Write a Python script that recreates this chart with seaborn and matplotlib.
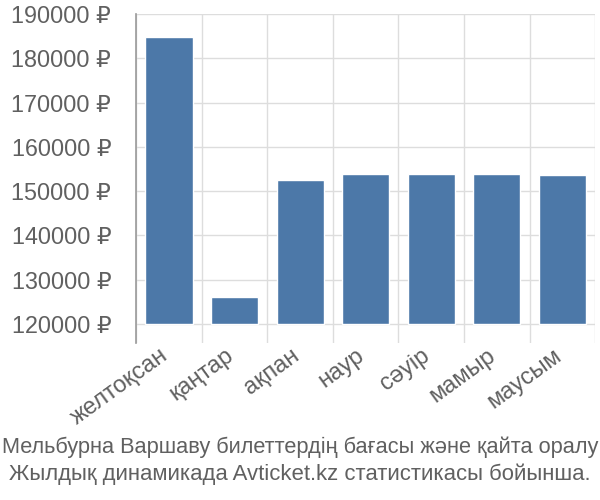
import numpy as np
import pandas as pd
import matplotlib
matplotlib.use("Agg")
import matplotlib.pyplot as plt
import seaborn as sns

months = ["желтоқсан", "қаңтар", "ақпан", "наур", "сәуір", "мамыр", "маусым"]
prices = [184800, 126000, 152600, 153900, 153900, 153900, 153650]
base = 120000
yticks = [120000, 130000, 140000, 150000, 160000, 170000, 180000, 190000]
caption = ["Мельбурна Варшаву билеттердің бағасы және қайта оралу",
           "Жылдық динамикада Avticket.kz статистикасы бойынша."]

sns.set_style("white")
plt.rcParams['font.family'] = ['Liberation Sans', 'DejaVu Sans']

df = pd.DataFrame({"month": months, "height": [p - base for p in prices]})

fig = plt.figure(figsize=(6, 5), dpi=100)
ax = fig.add_axes([0.227, 0.314, 0.765, 0.658])
sns.barplot(data=df, x="month", y="height", color="#4c78a8", saturation=1,
            width=0.72, errorbar=None, bottom=base, ax=ax, zorder=3)

ax.set_xlim(-0.5, len(months) - 0.5)
ax.set_ylim(115700, 190000)
ax.set_yticks(yticks)
ax.set_yticklabels([f"{v} ₽" for v in yticks], fontsize=16.8, color="#606060")
ax.set_xticks(range(len(months)))
ax.set_xticklabels(months, rotation=36, ha="right", va="baseline",
                   rotation_mode="anchor", fontsize=17, color="#606060")
ax.set_xticks(np.arange(-0.5, len(months), 1), minor=True)
ax.tick_params(axis="x", which="major", length=0, pad=11)
ax.tick_params(axis="x", which="minor", length=0)
ax.tick_params(axis="y", length=16, color="#dddddd", width=1, pad=2)
ax.grid(axis="y", color="#dddddd", lw=1, zorder=0)
ax.grid(axis="x", which="minor", color="#dddddd", lw=1, zorder=0)
ax.set_xlabel("")
ax.set_ylabel("")
for s in ["top", "right", "bottom"]:
    ax.spines[s].set_visible(False)
ax.spines["left"].set_color("#999999")
ax.spines["left"].set_linewidth(1.2)

fig.text(0.5, 0.106, caption[0], ha="center", va="center", fontsize=15.7, color="#606060")
fig.text(0.5, 0.052, caption[1], ha="center", va="center", fontsize=15.9, color="#606060")

fig.savefig("out.png", dpi=100)
